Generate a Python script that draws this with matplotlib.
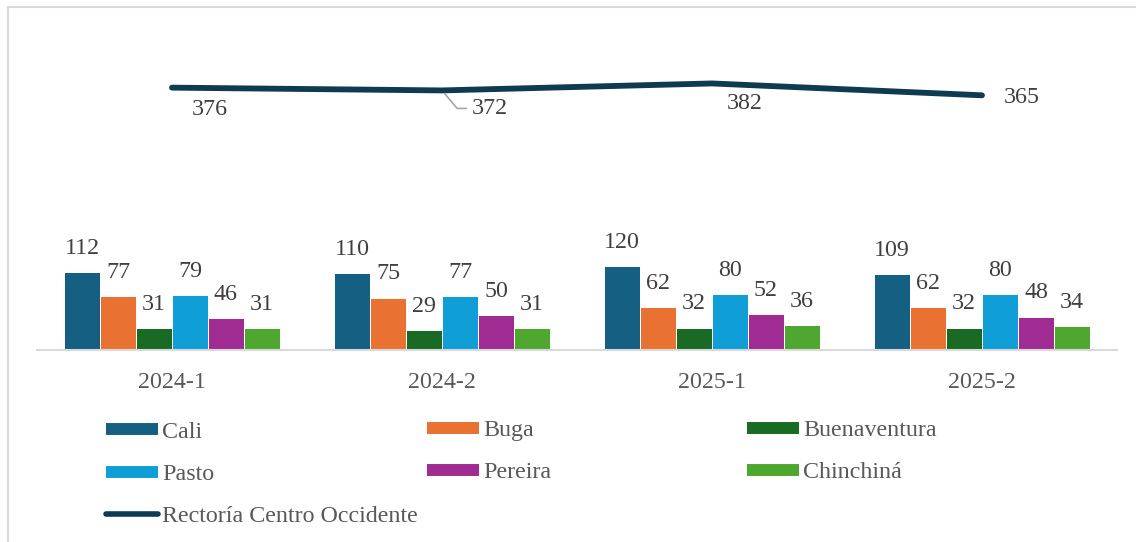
import matplotlib
matplotlib.use("Agg")
import matplotlib.pyplot as plt
import numpy as np
from matplotlib.lines import Line2D
from matplotlib.patches import Rectangle

plt.rcParams['font.family'] = ['Liberation Serif', 'DejaVu Serif']

# data
periodos = ["2024-1", "2024-2", "2025-1", "2025-2"]
sedes = ["Cali", "Buga", "Buenaventura", "Pasto", "Pereira", "Chinchiná"]
cali = [112, 110, 120, 109]
buga = [77, 75, 62, 62]
buenaventura = [31, 29, 32, 32]
pasto = [79, 77, 80, 80]
pereira = [46, 50, 52, 48]
chinchina = [31, 31, 36, 34]
rectoria = [376, 372, 382, 365]
linea_nombre = "Rectoría Centro Occidente"

colores = ["#156082", "#E97132", "#196B24", "#0F9ED5", "#A02B93", "#4EA72E"]
col_linea = "#0E3A52"
series = [cali, buga, buenaventura, pasto, pereira, chinchina]

FS = 17.3
W, H = 1136, 542
fig = plt.figure(figsize=(W/100, H/100), dpi=100)
ax = fig.add_axes([37/W, 1-350/H, 1080/W, (350-36)/H])

x = np.arange(len(periodos))
bw = 0.8/6
for i, (vals, c) in enumerate(zip(series, colores)):
    pos = x + (i-2.5)*bw
    ax.bar(pos, vals, bw, color=c, edgecolor="white", linewidth=0.7, zorder=2)
    for p, v in zip(pos, vals):
        ax.annotate(str(v), (p, v), xytext=(0, 9.5), textcoords="offset points",
                    ha="center", va="bottom", fontsize=FS, color="#404040")

ax.plot(x, rectoria, color=col_linea, lw=4.2, solid_capstyle="round", zorder=3)

# etiquetas de la linea (desplazamientos en pixeles)
offs = [(38, -22), (48, -18), (33, -20), (40, -2)]
for i, (v, (dx, dy)) in enumerate(zip(rectoria, offs)):
    if i == 1:
        ax.annotate(str(v), (x[i], v), xytext=(dx*0.72, dy*0.72), textcoords="offset points",
                    ha="center", va="center", fontsize=FS, color="#404040",
                    arrowprops=dict(arrowstyle="-", color="#A6A6A6", lw=1.2,
                                    relpos=(0, 0.5), shrinkA=2, shrinkB=3,
                                    connectionstyle="angle,angleA=0,angleB=-50,rad=0"))
    else:
        ax.annotate(str(v), (x[i], v), xytext=(dx*0.72, dy*0.72), textcoords="offset points",
                    ha="center", va="center", fontsize=FS, color="#404040")

ax.set_xlim(-0.5, 3.5)
ax.set_ylim(0, 450)
ax.set_xticks(x)
ax.set_xticklabels(periodos, fontsize=FS, color="#595959")
ax.tick_params(axis="x", length=0, pad=16)
ax.set_yticks([])
for s in ["top", "left", "right"]:
    ax.spines[s].set_visible(False)
ax.spines["bottom"].set_color("#D9D9D9")
ax.spines["bottom"].set_linewidth(1.5)

# leyenda en tres columnas fijas
def h_barra(c):
    return Line2D([], [], color=c, lw=8.6, solid_capstyle="butt")

columnas = [
    ([h_barra(colores[0]), h_barra(colores[3]),
      Line2D([], [], color=col_linea, lw=4, solid_capstyle="round")],
     [sedes[0], sedes[3], linea_nombre], 106, 474),
    ([h_barra(colores[1]), h_barra(colores[4])], [sedes[1], sedes[4]], 427, 451.5),
    ([h_barra(colores[2]), h_barra(colores[5])], [sedes[2], sedes[5]], 747, 451.5),
]
for hs, labs, px, py in columnas:
    leg = fig.legend(hs, labs, loc="center left", bbox_to_anchor=(px/W, 1-py/H),
                     frameon=False, fontsize=FS, labelcolor="#595959",
                     handlelength=2.15, handletextpad=0.2, labelspacing=0.84,
                     borderpad=0, borderaxespad=0)

fig.patches.append(Rectangle((8/W, -0.1), 1.2, 1-7/H+0.1, transform=fig.transFigure,
                             fill=False, edgecolor="#D9D9D9", lw=1.5))

fig.savefig("out.png", dpi=100)
